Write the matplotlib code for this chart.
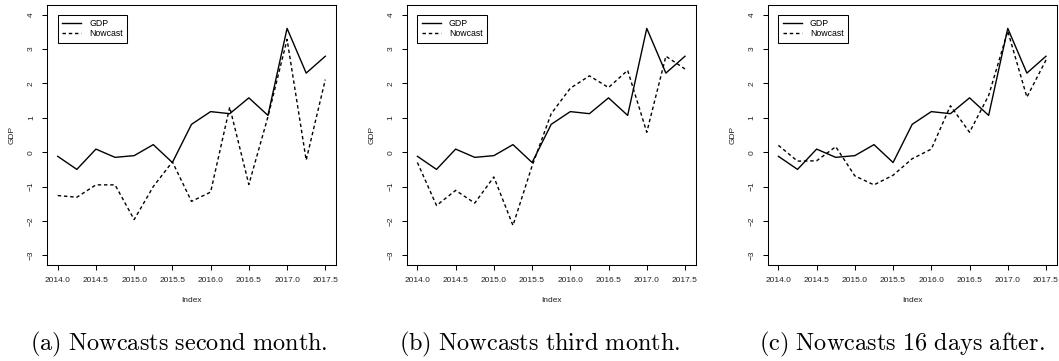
import numpy as np
import matplotlib
matplotlib.use("Agg")
from matplotlib import pyplot as plt

plt.rcParams['font.family'] = ['Liberation Sans', 'DejaVu Sans']
plt.rcParams['mathtext.fontset'] = 'cm'

# quarterly index
quarters = [2014.0, 2014.25, 2014.5, 2014.75, 2015.0, 2015.25, 2015.5, 2015.75,
            2016.0, 2016.25, 2016.5, 2016.75, 2017.0, 2017.25, 2017.5]

gdp = [-0.12, -0.50, 0.09, -0.15, -0.10, 0.22, -0.30, 0.81,
       1.18, 1.12, 1.58, 1.07, 3.60, 2.30, 2.79]

nowcast_m2 = [-1.26, -1.31, -0.95, -0.95, -1.96, -1.00, -0.28, -1.43,
              -1.16, 1.31, -0.94, 1.03, 3.28, -0.23, 2.11]
nowcast_m3 = [-0.30, -1.55, -1.11, -1.48, -0.72, -2.13, -0.40, 1.12,
              1.86, 2.22, 1.88, 2.38, 0.58, 2.79, 2.42]
nowcast_16d = [0.20, -0.26, -0.25, 0.16, -0.69, -0.95, -0.67, -0.19,
               0.09, 1.35, 0.58, 1.65, 3.52, 1.60, 2.68]

nowcasts = [nowcast_m2, nowcast_m3, nowcast_16d]
captions = [r'$\mathrm{(a)\ Nowcasts\ second\ month.}$',
            r'$\mathrm{(b)\ Nowcasts\ third\ month.}$',
            r'$\mathrm{(c)\ Nowcasts\ 16\ days\ after.}$']

xticks = [2014.0, 2014.5, 2015.0, 2015.5, 2016.0, 2016.5, 2017.0, 2017.5]
yticks = [-3, -2, -1, 0, 1, 2, 3, 4]

W, H = 1059, 361
fig = plt.figure(figsize=(W / 100, H / 100), dpi=100)

lefts = [47, 406.7, 767.7]
caption_x = [179, 540, 902]
ax_w, ax_top, ax_bot = 289, 5, 265

for i in range(3):
    ax = fig.add_axes([lefts[i] / W, (H - ax_bot) / H, ax_w / W, (ax_bot - ax_top) / H])
    ax.plot(quarters, gdp, color='black', lw=1.0, label='GDP')
    ax.plot(quarters, nowcasts[i], color='black', lw=1.0, dashes=(2.5, 2.0),
            label='Nowcast')

    ax.set_xlim(2013.86, 2017.64)
    ax.set_ylim(-3.28, 4.28)
    ax.set_xticks(xticks)
    ax.set_xticklabels(['%.1f' % t for t in xticks])
    ax.set_yticks(yticks)
    ax.set_yticklabels([str(t).replace('-', '\u2212') for t in yticks],
                       rotation=90, va='center')
    ax.tick_params(direction='out', length=3.6, width=0.75, labelsize=6,
                   color='black', labelcolor='#222222')
    ax.tick_params(axis='x', pad=5)
    ax.tick_params(axis='y', pad=5)
    for s in ax.spines.values():
        s.set_linewidth(0.75)

    ax.set_xlabel('Index', fontsize=6, color='#222222', va='center')
    ax.set_ylabel('GDP', fontsize=6, color='#222222', va='center')
    ax.xaxis.set_label_coords(0.5, -35 / 260)
    ax.yaxis.set_label_coords(-35 / 289, 0.5)

    leg = ax.legend(loc='upper left', bbox_to_anchor=(2014.0, 4.0),
                    bbox_transform=ax.transData, borderaxespad=0,
                    fancybox=False, framealpha=1, edgecolor='black',
                    fontsize=6.3, handlelength=2.2, handletextpad=0.9,
                    borderpad=0.5, labelspacing=0.15)
    leg.get_frame().set_linewidth(0.75)

    fig.text(caption_x[i] / W, 1 - 344 / H, captions[i], fontsize=17.5,
             ha='center', va='center', color='black')

fig.savefig('out.png', dpi=100)
